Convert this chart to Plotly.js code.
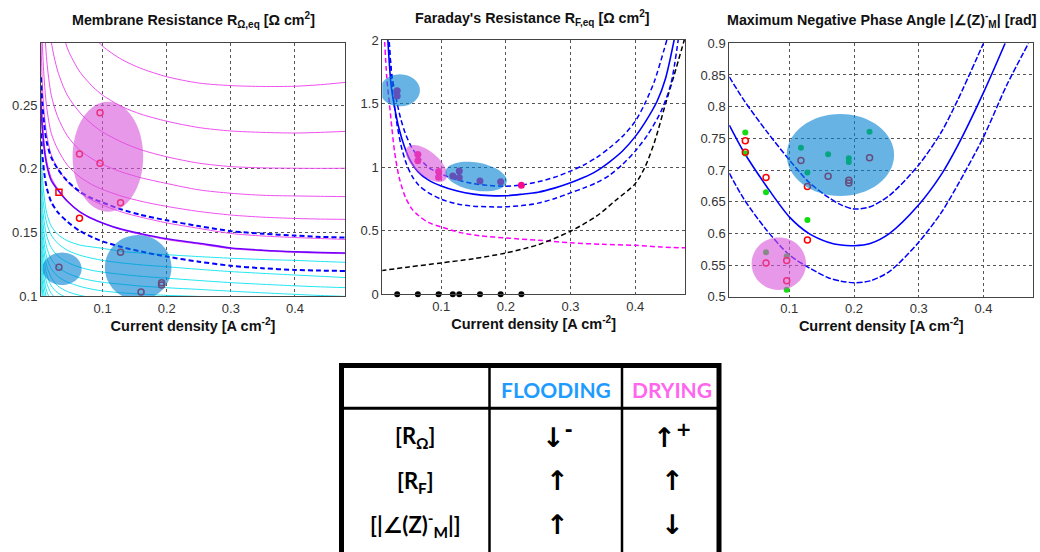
<!DOCTYPE html>
<html>
<head>
<meta charset="utf-8">
<script src="https://cdn.plot.ly/plotly-3.0.1.min.js"></script>
<style>
html, body { margin: 0; padding: 0; background: #fff; }
#graph { width: 1040px; height: 552px; }
</style>
</head>
<body>
<div id="graph"></div>
<script>
//***** data
// current densities of the measured points [A cm-2]
var jMeas = [0.032, 0.064, 0.096, 0.118, 0.128, 0.16, 0.192, 0.224];

// panel 1 : membrane resistance, common x grid
var jGrid1 = [0.004, 0.006, 0.009, 0.013, 0.02, 0.03, 0.045, 0.065, 0.085, 0.1, 0.13, 0.16, 0.2, 0.25, 0.3, 0.35, 0.4, 0.44, 0.478];
var rOhmFit = [0.25, 0.232, 0.216, 0.203, 0.191, 0.1835, 0.1745, 0.166, 0.1605, 0.1575, 0.1525, 0.149, 0.145, 0.1415, 0.1378, 0.136, 0.1348, 0.1342, 0.1338];
var rOhmUp = [0.272, 0.252, 0.235, 0.221, 0.209, 0.2, 0.1905, 0.182, 0.1765, 0.1735, 0.168, 0.1638, 0.1595, 0.155, 0.151, 0.149, 0.1475, 0.1465, 0.146];
var rOhmLow = [0.228, 0.212, 0.197, 0.185, 0.174, 0.166, 0.1585, 0.151, 0.146, 0.143, 0.1385, 0.135, 0.131, 0.127, 0.1238, 0.1218, 0.1205, 0.12, 0.1197];
// drying family (magenta)
var rOhmDry = [
  [null, null, null, null, null, null, null, null, 0.305, 0.2965, 0.286, 0.279, 0.2725, 0.2675, 0.2655, 0.2648, 0.265, 0.2662, 0.268],
  [null, null, null, null, null, 0.325, 0.295, 0.276, 0.2645, 0.258, 0.249, 0.243, 0.2375, 0.2325, 0.2298, 0.2287, 0.2282, 0.2287, 0.2295],
  [null, null, 0.38, 0.335, 0.3, 0.277, 0.258, 0.244, 0.2345, 0.229, 0.221, 0.215, 0.2095, 0.2045, 0.2018, 0.2008, 0.2005, 0.2004, 0.2005],
  [null, 0.36, 0.318, 0.285, 0.258, 0.241, 0.226, 0.2145, 0.2075, 0.2035, 0.1975, 0.193, 0.1885, 0.1835, 0.1808, 0.1792, 0.1787, 0.1784, 0.1782],
  [0.34, 0.3, 0.27, 0.248, 0.228, 0.2155, 0.203, 0.1935, 0.1872, 0.1838, 0.1785, 0.1745, 0.1705, 0.1665, 0.1637, 0.162, 0.161, 0.1605, 0.1603],
  [0.3, 0.268, 0.244, 0.227, 0.211, 0.2005, 0.19, 0.181, 0.175, 0.1715, 0.166, 0.162, 0.1575, 0.1532, 0.1492, 0.1472, 0.146, 0.1452, 0.1445],
  [0.265, 0.24, 0.22, 0.206, 0.193, 0.1845, 0.175, 0.1662, 0.1605, 0.1573, 0.152, 0.1483, 0.1443, 0.1408, 0.1372, 0.1355, 0.1343, 0.1337, 0.1333]
];
// flooding family (cyan)
var rOhmFlood = [
  [0.215, 0.195, 0.178, 0.165, 0.155, 0.1485, 0.1435, 0.14, 0.1385, 0.1375, 0.135, 0.1338, 0.1325, 0.131, 0.1297, 0.1287, 0.128, 0.1272, 0.1265],
  [0.2, 0.182, 0.168, 0.157, 0.148, 0.1415, 0.136, 0.132, 0.1295, 0.128, 0.126, 0.1245, 0.123, 0.121, 0.1192, 0.1178, 0.1165, 0.1155, 0.1145],
  [0.19, 0.172, 0.158, 0.147, 0.138, 0.1315, 0.1265, 0.1225, 0.12, 0.1188, 0.117, 0.1155, 0.114, 0.1122, 0.1105, 0.1092, 0.108, 0.1072, 0.1066],
  [0.18, 0.163, 0.149, 0.138, 0.129, 0.1228, 0.118, 0.1142, 0.112, 0.1108, 0.1092, 0.1078, 0.1065, 0.1052, 0.1038, 0.1025, 0.1013, 0.1004, 0.0997],
  [0.17, 0.154, 0.141, 0.13, 0.1215, 0.1155, 0.111, 0.1075, 0.1052, 0.104, 0.1025, 0.1015, 0.1005, 0.0997, null, null, null, null, null],
  [0.163, 0.147, 0.134, 0.1235, 0.1145, 0.108, 0.1035, 0.1005, 0.0985, null, null, null, null, null, null, null, null, null, null],
  [0.156, 0.14, 0.1275, 0.117, 0.108, 0.1025, 0.0985, null, null, null, null, null, null, null, null, null, null, null, null],
  [0.149, 0.133, 0.1205, 0.11, 0.102, 0.0965, null, null, null, null, null, null, null, null, null, null, null, null, null],
  [0.142, 0.126, 0.1135, 0.1035, 0.096, null, null, null, null, null, null, null, null, null, null, null, null, null, null],
  [0.135, 0.119, 0.107, 0.0975, null, null, null, null, null, null, null, null, null, null, null, null, null, null, null],
  [0.128, 0.112, 0.1005, 0.092, null, null, null, null, null, null, null, null, null, null, null, null, null, null, null],
  [0.12, 0.105, 0.094, null, null, null, null, null, null, null, null, null, null, null, null, null, null, null, null],
  [0.112, 0.098, null, null, null, null, null, null, null, null, null, null, null, null, null, null, null, null, null]
];
var rOhmPtsX = [0.096, 0.064, 0.096, 0.128, 0.064, 0.032, 0.128, 0.16, 0.192, 0.192];
var rOhmPtsY = [0.2442, 0.2117, 0.2044, 0.1734, 0.1611, 0.1226, 0.1344, 0.1031, 0.1105, 0.1087];
var rOhmSqX = [0.032];
var rOhmSqY = [0.1816];

// panel 2 : Faraday resistance
var rFFitX = [0.017, 0.0227, 0.028, 0.035, 0.043, 0.053, 0.064, 0.08, 0.1, 0.125, 0.15, 0.175, 0.2, 0.225, 0.25, 0.275, 0.3, 0.32, 0.34, 0.36, 0.38, 0.4, 0.415, 0.434, 0.447, 0.461];
var rFFitY = [2.05, 1.64, 1.47, 1.3, 1.165, 1.045, 0.965, 0.9, 0.852, 0.812, 0.788, 0.776, 0.775, 0.787, 0.803, 0.835, 0.877, 0.918, 0.969, 1.04, 1.125, 1.24, 1.35, 1.52, 1.7, 2.02];
var rFUpX = [0.018, 0.024, 0.03, 0.037, 0.045, 0.055, 0.065, 0.08, 0.1, 0.125, 0.15, 0.175, 0.2, 0.225, 0.25, 0.275, 0.3, 0.32, 0.34, 0.36, 0.38, 0.4, 0.415, 0.43, 0.45];
var rFUpY = [2.05, 1.72, 1.55, 1.39, 1.26, 1.15, 1.08, 1.0, 0.945, 0.9, 0.87, 0.855, 0.85, 0.86, 0.885, 0.92, 0.969, 1.015, 1.075, 1.15, 1.24, 1.36, 1.5, 1.68, 2.02];
var rFLowX = [0.019, 0.025, 0.031, 0.038, 0.046, 0.055, 0.065, 0.08, 0.1, 0.125, 0.15, 0.175, 0.2, 0.225, 0.25, 0.275, 0.3, 0.32, 0.34, 0.36, 0.38, 0.4, 0.42, 0.44, 0.455, 0.467];
var rFLowY = [2.05, 1.6, 1.36, 1.17, 1.03, 0.93, 0.86, 0.8, 0.748, 0.71, 0.693, 0.688, 0.688, 0.698, 0.717, 0.752, 0.798, 0.835, 0.877, 0.935, 1.02, 1.126, 1.26, 1.44, 1.65, 2.02];
var rFDryX = [0.012, 0.016, 0.02, 0.024, 0.028, 0.035, 0.045, 0.055, 0.065, 0.08, 0.1, 0.13, 0.16, 0.2, 0.25, 0.3, 0.35, 0.4, 0.44, 0.478];
var rFDryY = [2.05, 1.7, 1.5, 1.3, 1.12, 0.92, 0.76, 0.67, 0.62, 0.565, 0.53, 0.485, 0.46, 0.443, 0.425, 0.405, 0.393, 0.385, 0.372, 0.365];
var rFActX = [0.0073, 0.05, 0.1, 0.15, 0.2, 0.25, 0.3, 0.34, 0.37, 0.4, 0.415, 0.43, 0.447, 0.46, 0.477];
var rFActY = [0.186, 0.215, 0.247, 0.28, 0.325, 0.39, 0.496, 0.614, 0.74, 0.87, 1.0, 1.2, 1.5, 1.72, 2.02];
var rFPtsX = [0.032, 0.032, 0.064, 0.064, 0.096, 0.096, 0.118, 0.128, 0.128, 0.16, 0.192, 0.224];
var rFPtsY = [1.60, 1.56, 1.10, 1.05, 0.965, 0.92, 0.93, 0.97, 0.918, 0.892, 0.886, 0.857];
var rFZero = [0, 0, 0, 0, 0, 0, 0, 0];

// panel 3 : maximum negative phase angle
var phFitX = [0.0073, 0.03, 0.065, 0.1, 0.13, 0.16, 0.18, 0.2, 0.225, 0.255, 0.3, 0.335, 0.36, 0.4, 0.4335];
var phFitY = [0.771, 0.728, 0.674, 0.626, 0.6, 0.586, 0.5815, 0.5805, 0.584, 0.6, 0.645, 0.693, 0.738, 0.822, 0.9];
var phUpX = [0.0073, 0.03, 0.065, 0.1, 0.13, 0.16, 0.18, 0.2, 0.225, 0.255, 0.3, 0.335, 0.36, 0.4];
var phUpY = [0.847, 0.81, 0.761, 0.716, 0.681, 0.657, 0.645, 0.6385, 0.642, 0.66, 0.708, 0.76, 0.81, 0.9];
var phLowX = [0.0073, 0.03, 0.065, 0.1, 0.13, 0.16, 0.18, 0.2, 0.225, 0.255, 0.3, 0.335, 0.36, 0.4, 0.436, 0.4696];
var phLowY = [0.695, 0.654, 0.605, 0.566, 0.546, 0.53, 0.5245, 0.522, 0.525, 0.54, 0.586, 0.633, 0.676, 0.752, 0.834, 0.9];
var phGreenX = [0.032, 0.032, 0.064, 0.064, 0.096, 0.096, 0.118, 0.128, 0.128, 0.16, 0.192, 0.192, 0.224];
var phGreenY = [0.759, 0.726, 0.665, 0.57, 0.564, 0.511, 0.735, 0.696, 0.621, 0.725, 0.7185, 0.7125, 0.7605];
var phRedX = [0.032, 0.032, 0.064, 0.064, 0.096, 0.096, 0.118, 0.128, 0.128, 0.16, 0.192, 0.192, 0.224];
var phRedY = [0.746, 0.728, 0.688, 0.553, 0.557, 0.525, 0.715, 0.674, 0.5895, 0.69, 0.684, 0.6795, 0.7194];

// table
var tableCols = ['FLOODING', 'DRYING'];
var tableRows = ['[R<sub>Ω</sub>]', '[R<sub>F</sub>]', '[|∠(Z)<sup>-</sup><sub>M</sub>|]'];
var trendFlooding = ['↓<sup>-</sup>', '↑', '↑'];
var trendDrying = ['↑<sup>+</sup>', '↑', '↓'];
//***** End of data

var W = 1040, H = 552;
var BLUE = 'rgb(0,0,255)';
var data = [];

function line(x, y, xa, ya, color, width, dash) {
  return {x: x, y: y, xaxis: xa, yaxis: ya, type: 'scatter', mode: 'lines',
    line: {color: color, width: width, dash: dash || 'solid', shape: 'spline', smoothing: 0.8},
    hoverinfo: 'skip', showlegend: false};
}
function pts(x, y, xa, ya, symbol, color, size) {
  var open = symbol.indexOf('open') > 0;
  return {x: x, y: y, xaxis: xa, yaxis: ya, type: 'scatter', mode: 'markers',
    marker: {symbol: symbol, size: size, color: color, line: {color: color, width: open ? 1.5 : 0}},
    cliponaxis: false, hoverinfo: 'skip', showlegend: false};
}

// panel 1
rOhmFlood.forEach(function (c) { data.push(line(jGrid1, c, 'x', 'y', '#22e6f2', 1)); });
rOhmDry.forEach(function (c) { data.push(line(jGrid1, c, 'x', 'y', '#f050f0', 1)); });
data.push(line(jGrid1, rOhmUp, 'x', 'y', BLUE, 2, '5px,3px'));
data.push(line(jGrid1, rOhmLow, 'x', 'y', BLUE, 2, '5px,3px'));
data.push(line(jGrid1, rOhmFit, 'x', 'y', 'rgb(110,0,255)', 1.6));
data.push(pts(rOhmPtsX, rOhmPtsY, 'x', 'y', 'circle-open', 'red', 6));
data.push(pts(rOhmSqX, rOhmSqY, 'x', 'y', 'square-open', 'red', 6));

// panel 2
data.push(line(rFDryX, rFDryY, 'x2', 'y2', '#ff00ff', 1.5, '5px,3px'));
data.push(line(rFActX, rFActY, 'x2', 'y2', '#000', 1.5, '5px,3px'));
data.push(line(rFUpX, rFUpY, 'x2', 'y2', BLUE, 1.5, '5px,3px'));
data.push(line(rFLowX, rFLowY, 'x2', 'y2', BLUE, 1.5, '5px,3px'));
data.push(line(rFFitX, rFFitY, 'x2', 'y2', BLUE, 1.6));
data.push(pts(rFPtsX, rFPtsY, 'x2', 'y2', 'circle', 'rgb(245,10,140)', 7));
data.push(pts(jMeas, rFZero, 'x2', 'y2', 'circle', '#000', 6));

// panel 3
data.push(line(phUpX, phUpY, 'x3', 'y3', BLUE, 1.5, '6px,2px'));
data.push(line(phLowX, phLowY, 'x3', 'y3', BLUE, 1.5, '6px,2px'));
data.push(line(phFitX, phFitY, 'x3', 'y3', BLUE, 1.6));
data.push(pts(phGreenX, phGreenY, 'x3', 'y3', 'circle', '#11dd11', 6));
data.push(pts(phRedX, phRedY, 'x3', 'y3', 'circle-open', 'red', 6));

var tickFont = {family: 'Liberation Sans, Arial, sans-serif', size: 13, color: '#333'};
var axis_layout = {
  showgrid: true, gridcolor: '#555', gridwidth: 1, griddash: 'dot',
  zeroline: false, showline: true, linecolor: '#444', linewidth: 1, mirror: true,
  ticks: '', tickfont: tickFont, fixedrange: true
};
function xAxis(dom, range, anchor) {
  var a = Object.assign({}, axis_layout);
  a.domain = dom; a.range = range; a.anchor = anchor;
  a.tickvals = [0.1, 0.2, 0.3, 0.4];
  a.ticktext = ['0.1', '0.2', '0.3', '0.4'];
  a.title = {text: '<b>Current density [A cm<sup>-2</sup>]</b>', standoff: 2,
    font: {family: 'Liberation Sans, Arial, sans-serif', size: 14.5, color: '#111'}};
  return a;
}
function yAxis(dom, range, anchor, vals) {
  var a = Object.assign({}, axis_layout);
  a.domain = dom; a.range = range; a.anchor = anchor;
  a.tickvals = vals;
  a.ticktext = vals.map(function (v) { return String(v); });
  return a;
}

var layout = {
  width: W, height: H,
  margin: {l: 0, r: 0, t: 0, b: 0},
  paper_bgcolor: '#fff', plot_bgcolor: '#fff',
  font: {family: 'Liberation Sans, Arial, sans-serif', size: 13},
  showlegend: false,
  xaxis: xAxis([41 / W, 345 / W], [0.004, 0.478], 'y'),
  yaxis: yAxis([1 - 296 / H, 1 - 43 / H], [0.1, 0.299], 'x', [0.1, 0.15, 0.2, 0.25]),
  xaxis2: xAxis([382.3 / W, 685 / W], [0.009, 0.477], 'y2'),
  yaxis2: yAxis([1 - 294.3 / H, 1 - 40 / H], [0, 2], 'x2', [0, 0.5, 1, 1.5, 2]),
  xaxis3: xAxis([729.3 / W, 1033.3 / W], [0.0073, 0.477], 'y3'),
  yaxis3: yAxis([1 - 296.7 / H, 1 - 43.3 / H], [0.5, 0.9], 'x3', [0.5, 0.55, 0.6, 0.65, 0.7, 0.75, 0.8, 0.85, 0.9]),
  shapes: [],
  annotations: []
};

// highlighted regions: centre in data units, half axes in pixels, tilt in degrees
var FLOOD_FILL = 'rgb(0,128,210)', DRY_FILL = 'rgb(217,83,217)';
var regions = [
  {ax: 'x', ay: 'y', cx: 0.1083, cy: 0.2096, rx: 35.3, ry: 55, deg: 0, fill: DRY_FILL},
  {ax: 'x', ay: 'y', cx: 0.0369, cy: 0.1214, rx: 19.5, ry: 16.2, deg: 0, fill: FLOOD_FILL},
  {ax: 'x', ay: 'y', cx: 0.1555, cy: 0.1224, rx: 33.3, ry: 32.5, deg: 0, fill: FLOOD_FILL},
  {ax: 'x2', ay: 'y2', cx: 0.0362, cy: 1.604, rx: 20, ry: 16, deg: 0, fill: FLOOD_FILL},
  {ax: 'x2', ay: 'y2', cx: 0.0773, cy: 1.029, rx: 25, ry: 12, deg: 40, fill: DRY_FILL},
  {ax: 'x2', ay: 'y2', cx: 0.1541, cy: 0.926, rx: 31, ry: 14, deg: 10, fill: FLOOD_FILL},
  {ax: 'x3', ay: 'y3', cx: 0.1789, cy: 0.7237, rx: 53.7, ry: 41, deg: 0, fill: FLOOD_FILL},
  {ax: 'x3', ay: 'y3', cx: 0.0838, cy: 0.5521, rx: 27.2, ry: 26.3, deg: 0, fill: DRY_FILL}
];
function axisKey(ref) { return ref.charAt(0) + 'axis' + ref.slice(1); }
function ellipsePath(r) {
  var xa = layout[axisKey(r.ax)], ya = layout[axisKey(r.ay)];
  var sx = (xa.domain[1] - xa.domain[0]) * W / (xa.range[1] - xa.range[0]);
  var sy = (ya.domain[1] - ya.domain[0]) * H / (ya.range[1] - ya.range[0]);
  var t = r.deg * Math.PI / 180, p = [];
  for (var i = 0; i <= 64; i++) {
    var a = 2 * Math.PI * i / 64;
    var ex = r.rx * Math.cos(a), ey = r.ry * Math.sin(a);
    var dx = ex * Math.cos(t) - ey * Math.sin(t);
    var dy = ex * Math.sin(t) + ey * Math.cos(t);
    p.push((r.cx + dx / sx).toFixed(5) + ',' + (r.cy - dy / sy).toFixed(5));
  }
  return 'M' + p.join('L') + 'Z';
}
regions.forEach(function (r) {
  layout.shapes.push({type: 'path', xref: r.ax, yref: r.ay, path: ellipsePath(r),
    fillcolor: r.fill, opacity: 0.6, line: {width: 0}, layer: 'above'});
});

// panel titles
var titleFont = {family: 'Liberation Sans, Arial, sans-serif', size: 14.3, color: '#111'};
function px(x) { return x / W; }
function py(y) { return 1 - y / H; }
[
  {x: 193, y: 20, text: '<b>Membrane Resistance R<sub>Ω,eq</sub> [Ω cm<sup>2</sup>]</b>'},
  {x: 532.5, y: 18, text: '<b>Faraday\'s Resistance R<sub>F,eq</sub> [Ω cm<sup>2</sup>]</b>'},
  {x: 881, y: 20, text: '<b>Maximum Negative Phase Angle |∠(Z)<sup>-</sup><sub>M</sub>| [rad]</b>'}
].forEach(function (t) {
  layout.annotations.push({xref: 'paper', yref: 'paper', x: px(t.x), y: py(t.y),
    xanchor: 'center', yanchor: 'middle', showarrow: false, text: t.text, font: titleFont});
});

// table frame
var TL = 341.5, TR = 719, TT = 365.5, C1 = 489.5, C2 = 622, HL = 408.3;
layout.shapes.push(
  {type: 'rect', xref: 'paper', yref: 'paper', x0: px(TL), x1: px(TR), y0: py(TT), y1: -0.05,
    line: {color: '#000', width: 5}, fillcolor: 'rgba(0,0,0,0)'},
  {type: 'line', xref: 'paper', yref: 'paper', x0: px(C1), x1: px(C1), y0: py(TT), y1: -0.05, line: {color: '#000', width: 2.5}},
  {type: 'line', xref: 'paper', yref: 'paper', x0: px(C2), x1: px(C2), y0: py(TT), y1: -0.05, line: {color: '#000', width: 2.5}},
  {type: 'line', xref: 'paper', yref: 'paper', x0: px(TL), x1: px(TR), y0: py(HL), y1: py(HL), line: {color: '#000', width: 3}}
);
var tableFont = 'Lato, DejaVu Sans, sans-serif';
var colX = [556, 671.5], rowY = [436.7, 481.7, 525], headColors = ['#1e9bff', '#ff66ee'];
tableCols.forEach(function (c, i) {
  layout.annotations.push({xref: 'paper', yref: 'paper', x: px(colX[i]), y: py(389), showarrow: false,
    xanchor: 'center', yanchor: 'middle', text: '<b>' + c + '</b>',
    font: {family: tableFont, size: 21, color: headColors[i]}});
});
tableRows.forEach(function (r, i) {
  layout.annotations.push({xref: 'paper', yref: 'paper', x: px(415), y: py(rowY[i]), showarrow: false,
    xanchor: 'center', yanchor: 'middle', text: '<b>' + r + '</b>',
    font: {family: tableFont, size: 22, color: '#000'}});
  [trendFlooding[i], trendDrying[i]].forEach(function (s, k) {
    layout.annotations.push({xref: 'paper', yref: 'paper', x: px(k ? 672 : 557), y: py(rowY[i] - 1), showarrow: false,
      xanchor: 'center', yanchor: 'middle', text: '<b>' + s + '</b>',
      font: {family: 'DejaVu Sans, sans-serif', size: 27, color: '#000'}});
  });
});

function plotGraph() {
  Plotly.newPlot('graph', data, layout, {displayModeBar: false});
}
plotGraph();
</script>
</body>
</html>
